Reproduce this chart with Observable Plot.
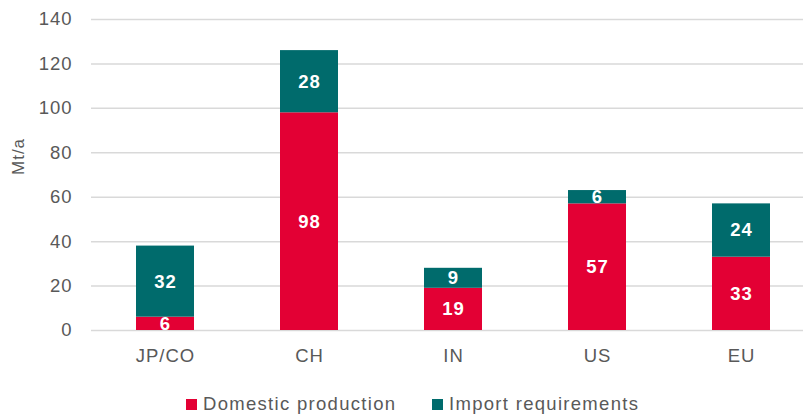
<!DOCTYPE html>
<html>
<head>
<meta charset="utf-8">
<script src="https://cdn.jsdelivr.net/npm/d3@7"></script>
<script src="https://cdn.jsdelivr.net/npm/@observablehq/plot@0.6"></script>
<style>
  html, body { margin: 0; padding: 0; background: #fff; }
  body { width: 803px; height: 416px; overflow: hidden; font-family: "Liberation Sans", Arial, sans-serif; }
  .legend { position: relative; height: 44px; width: 803px; color: #595959; font-size: 18.5px; letter-spacing: 1.3px; }
  .item { position: absolute; top: 22px; display: flex; align-items: center; white-space: nowrap; line-height: 20px; }
  .sw { width: 11px; height: 11px; margin-right: 6px; display: inline-block; }
</style>
</head>
<body>
<div id="chart"></div>
<script>
const categories = ["JP/CO", "CH", "IN", "US", "EU"];
const domestic = [6, 98, 19, 57, 33];
const imports = [32, 28, 9, 6, 24];
const seriesNames = ["Domestic production", "Import requirements"];
const seriesColors = ["#e30034", "#006b6c"];
const yTicks = [0, 20, 40, 60, 80, 100, 120, 140];

const data = [];
categories.forEach((c, i) => {
  data.push({cat: c, series: seriesNames[0], value: domestic[i]});
  data.push({cat: c, series: seriesNames[1], value: imports[i]});
});

const W = 803, H = 372;
const chart = Plot.plot({
  width: W,
  height: H,
  marginTop: 19,
  marginBottom: 42,
  marginLeft: 91,
  marginRight: 0,
  style: {fontFamily: "Liberation Sans, Arial, sans-serif", fontSize: "18.5px", color: "#595959", background: "#fff", letterSpacing: "1px"},
  x: {domain: categories, range: [91, 814], paddingInner: 0.6, paddingOuter: 0.3, label: null},
  y: {domain: [0, 140], ticks: yTicks, label: null},
  color: {domain: seriesNames, range: seriesColors},
  marks: [
    Plot.ruleY(yTicks, {stroke: "#d9d9d9", strokeWidth: 1.5}),
    Plot.barY(data, {x: "cat", y: "value", z: "series", fill: "series", order: seriesNames}),
    Plot.text(data, Plot.stackY({x: "cat", y: "value", z: "series", order: seriesNames, text: d => String(d.value), fill: "white", fontWeight: "bold", fontSize: 18.5})),
    Plot.axisY({ticks: yTicks, tickSize: 0, tickPadding: 19, fontSize: 18.5, label: null, fill: "#595959"}),
    Plot.axisX({tickSize: 0, tickPadding: 18, fontSize: 18.5, label: null, fill: "#595959"}),
    Plot.text(["Mt/a"], {frameAnchor: "left", dx: -73, dy: 0, rotate: -90, fontSize: 17, fill: "#595959", style: "letter-spacing:0.3px"})
  ]
});
document.getElementById("chart").appendChild(chart);

const legend = document.createElement("div");
legend.className = "legend";
const lefts = [186, 432];
seriesNames.forEach((s, i) => {
  const it = document.createElement("div");
  it.className = "item";
  it.style.left = lefts[i] + "px";
  const sw = document.createElement("span");
  sw.className = "sw";
  sw.style.background = seriesColors[i];
  it.appendChild(sw);
  it.appendChild(document.createTextNode(s));
  legend.appendChild(it);
});
document.body.appendChild(legend);
</script>
</body>
</html>
